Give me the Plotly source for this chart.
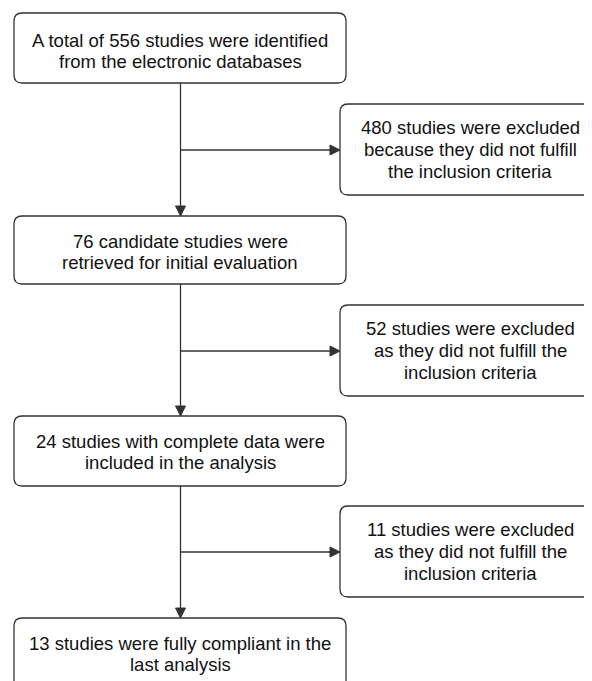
import plotly.graph_objects as go

# Flowchart content
main_texts = [
    "A total of 556 studies were identified<br>from the electronic databases",
    "76 candidate studies were<br>retrieved for initial evaluation",
    "24 studies with complete data were<br>included in the analysis",
    "13 studies were fully compliant in the<br>last analysis",
]
side_texts = [
    "480 studies were excluded<br>because they did not fulfill<br>the inclusion criteria",
    "52 studies were excluded<br>as they did not fulfill the<br>inclusion criteria",
    "11 studies were excluded<br>as they did not fulfill the<br>inclusion criteria",
]

# box geometry (pixel coordinates of the page, y downward)
main_boxes = [(14, 13, 346, 83), (14, 216, 346, 284), (14, 416, 346, 486), (14, 618, 346, 694)]
side_boxes = [(340, 104, 600, 195), (340, 305, 600, 396), (340, 506, 600, 597)]
main_text_y = [51, 252, 452, 654]
side_text_x = 470
trunk_x = 180.5
branch_y = [150, 351, 552]

W, H = 592, 681
OFF = 8  # page body margin
LC = "#333333"
LW = 1.3
R = 8
FS = 18.5
LH = 21.7
FONT = dict(family="Liberation Sans, Arial", size=FS, color="#111111")

def rrect(x0, y0, x1, y1, r=R):
    return (f"M{x0+r},{y0} L{x1-r},{y0} Q{x1},{y0} {x1},{y0+r} "
            f"L{x1},{y1-r} Q{x1},{y1} {x1-r},{y1} L{x0+r},{y1} "
            f"Q{x0},{y1} {x0},{y1-r} L{x0},{y0+r} Q{x0},{y0} {x0+r},{y0} Z")

shapes = []
annotations = []

def add_text(cx, cy, text):
    lines = text.split("<br>")
    n = len(lines)
    for k, ln in enumerate(lines):
        y = cy + (k - (n - 1) / 2) * LH
        annotations.append(dict(x=cx, y=y, text=ln, showarrow=False, xref="x", yref="y",
                                font=FONT, align="center", xanchor="center", yanchor="middle"))

for (x0, y0, x1, y1), t, ty in zip(main_boxes, main_texts, main_text_y):
    shapes.append(dict(type="path", path=rrect(x0, y0, x1, y1), xref="x", yref="y",
                       line=dict(color=LC, width=LW), fillcolor="white"))
    add_text((x0 + x1) / 2, ty, t)
for (x0, y0, x1, y1), t in zip(side_boxes, side_texts):
    shapes.append(dict(type="path", path=rrect(x0, y0, x1, y1), xref="x", yref="y",
                       line=dict(color=LC, width=LW), fillcolor="white"))
    add_text(side_text_x, (y0 + y1) / 2, t)

AH = 10  # arrow head length
AW = 5   # half-width
for i in range(3):
    ytop = main_boxes[i][3]
    ybot = main_boxes[i + 1][1]
    shapes.append(dict(type="line", x0=trunk_x, x1=trunk_x, y0=ytop, y1=ybot - AH, xref="x", yref="y",
                       line=dict(color=LC, width=LW)))
    shapes.append(dict(type="path", xref="x", yref="y",
                       path=f"M{trunk_x-AW},{ybot-AH} L{trunk_x+AW},{ybot-AH} L{trunk_x},{ybot} Z",
                       fillcolor=LC, line=dict(color=LC, width=1)))
for i, by in enumerate(branch_y):
    xr = side_boxes[i][0]
    shapes.append(dict(type="line", x0=trunk_x, x1=xr - AH, y0=by, y1=by, xref="x", yref="y",
                       line=dict(color=LC, width=LW)))
    shapes.append(dict(type="path", xref="x", yref="y",
                       path=f"M{xr-AH},{by-AW} L{xr-AH},{by+AW} L{xr},{by} Z",
                       fillcolor=LC, line=dict(color=LC, width=1)))

fig = go.Figure()
fig.update_layout(
    width=W - OFF, height=H - OFF,
    margin=dict(l=0, r=0, t=0, b=0),
    paper_bgcolor="white", plot_bgcolor="white",
    xaxis=dict(range=[OFF, W], visible=False, fixedrange=True),
    yaxis=dict(range=[H, OFF], visible=False, fixedrange=True),
    shapes=shapes, annotations=annotations, showlegend=False,
)
fig.write_html("out.html", config={"displayModeBar": False})
